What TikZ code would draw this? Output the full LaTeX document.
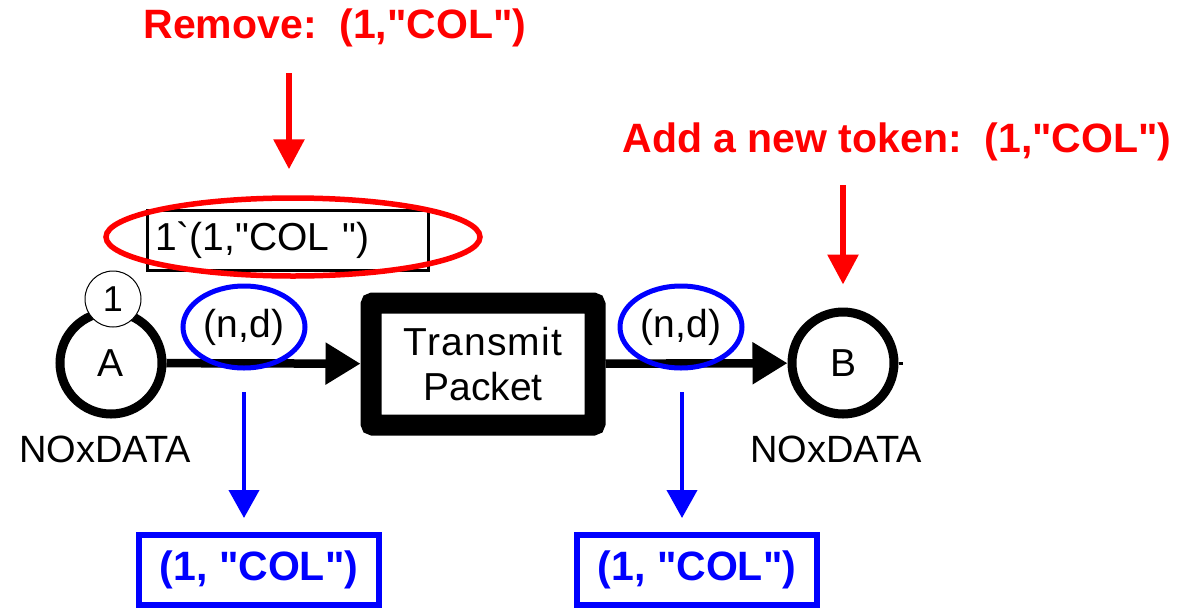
\documentclass[tikz,border=0pt]{standalone}
\usepackage{fontspec}
\setmainfont{Liberation Sans}[Ligatures=TeXOff]
\usetikzlibrary{arrows.meta,shapes.geometric}
\definecolor{netred}{RGB}{255,0,0}
\definecolor{netblue}{RGB}{0,0,255}
\newcommand{\fs}[1]{\fontsize{#1}{#1}\selectfont}
\tikzset{
  place/.style={circle, draw=black, line width=9pt, minimum size=102pt, inner sep=0pt, font=\fs{39}},
  token/.style={circle, draw=black, line width=1pt, fill=white, minimum size=56pt, inner sep=0pt, font=\fs{36}},
  trans/.style={rectangle, draw=black, line width=21pt, rounded corners=2pt, minimum width=224pt, minimum height=122pt, inner sep=0pt, align=center, font=\fs{39}},
  arc/.style={draw=black, line width=8.5pt, -{Triangle[length=35pt,width=40pt]}},
  inscr/.style={ellipse, draw=netblue, line width=5pt, minimum width=122pt, minimum height=82pt, inner sep=0pt, font=\fs{39}},
  bluearrow/.style={draw=netblue, line width=4pt, -{Triangle[length=28pt,width=30pt]}},
  redarrow/.style={draw=netred, line width=6pt, -{Triangle[length=30pt,width=30pt]}},
  bluebox/.style={rectangle, draw=netblue, line width=6pt, minimum width=240pt, minimum height=70pt, inner sep=0pt, text=netblue, font=\bfseries\fs{41}},
  redtext/.style={text=netred, font=\bfseries\fs{41}, inner sep=0pt},
  plain/.style={font=\fs{38}, inner sep=0pt},
}
\begin{document}
\begin{tikzpicture}[x=1pt,y=-1pt]
\useasboundingbox (0,0) rectangle (1183,611);
\fill[white] (0,0) rectangle (1183,611);

% titles
\node[redtext] (remove) at (335,28) {Remove:\ \ (1,"COL")};
\node[redtext] (addtok) at (897,142) {Add a new token:\ \ (1,"COL")};

% places and transition
\node[place] (A) at (111,363) {A};
\node[place] (B) at (843,363) {B};
\node[trans] (T) at (483,364) {{\addfontfeature{LetterSpace=3}Transmit}\\[6pt]Packet};
\node[token] (tok) at (113,299) {1};
\node[plain] (tA) at (105,449) {NOxDATA};
\node[plain] (tB) at (836,449) {NOxDATA};
\draw[line width=3pt] (B.east) -- ++(4,0);

% marking box
\node[rectangle, draw=black, line width=3pt, minimum width=281pt, minimum height=60pt, inner sep=0pt, text width=265pt, align=left, font=\fs{39}] (mark) at (287.5,240) {1`(1,"COL ")};
\node[ellipse, draw=netred, line width=5.5pt, minimum width=374pt, minimum height=78pt, inner sep=0pt] (redell) at (293,237) {};

% arcs
\draw[arc] (A) -- (T);
\draw[arc] (T) -- (B);

% inscriptions
\node[inscr] (e1) at (244,327) {(n,d)};
\node[inscr] (e2) at (681,327) {(n,d)};

% result boxes
\node[bluebox] (b1) at (259,570) {(1, "COL")};
\node[bluebox] (b2) at (697,570) {(1, "COL")};

% blue arrows
\coordinate (c1) at (244,392);
\coordinate (c2) at (682,392);
\draw[bluearrow, shorten >=14pt] (c1) -- (c1 |- b1.north);
\draw[bluearrow, shorten >=14pt] (c2) -- (c2 |- b2.north);

% red arrows
\coordinate (r1) at (289,73);
\coordinate (r2) at (843,185);
\draw[redarrow, shorten >=26pt] (r1) -- (r1 |- redell.north);
\draw[redarrow, shorten >=23pt] (r2) -- (B.north);
\end{tikzpicture}
\end{document}
